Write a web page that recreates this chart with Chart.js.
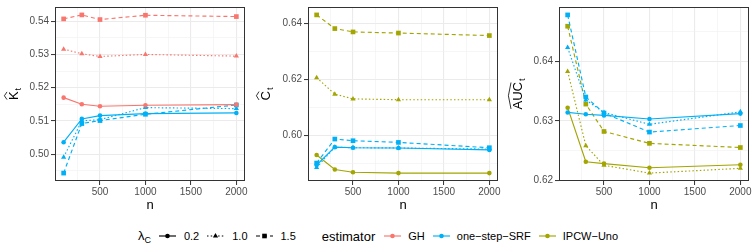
<!DOCTYPE html>
<html>
<head>
<meta charset="utf-8">
<script src="https://cdn.jsdelivr.net/npm/chart.js@4.4.0/dist/chart.umd.min.js"></script>
<style>
  body { margin: 0; background: #fff; width: 756px; height: 252px; overflow: hidden; position: relative;
         font-family: "Liberation Sans", Arial, sans-serif; }
  #panels { display: flex; position: absolute; left: 0; top: 0; }
  #panels canvas { display: block; }
  #legend { position: absolute; left: 0; top: 226px; width: 756px; height: 20px;
            display: flex; align-items: center; justify-content: center; color: #000; }
  #legend .lab { font-size: 11px; white-space: nowrap; }
  #legend .ttl { font-size: 13px; white-space: nowrap; }
  #legend sub { font-size: 9px; vertical-align: -3px; }
  #legend svg { display: block; }
</style>
</head>
<body>
<div id="panels">
  <canvas id="pK" width="252" height="214"></canvas>
  <canvas id="pC" width="252" height="214"></canvas>
  <canvas id="pA" width="252" height="214"></canvas>
</div>
<div id="legend"></div>

<script>
// ---- data -----------------------------------------------------------------
const nValues = [100, 300, 500, 1000, 2000];
const xTicks = [500, 1000, 1500, 2000];
const xMinor = [250, 750, 1250, 1750];

const lambdaLabels = ['0.2', '1.0', '1.5'];
const estimators = ['GH', 'one\u2212step\u2212SRF', 'IPCW\u2212Uno'];

// K-hat panel
const kTicks = [0.50, 0.51, 0.52, 0.53, 0.54];
const kMinor = [0.495, 0.505, 0.515, 0.525, 0.535];
const kGH02  = [0.5170, 0.5150, 0.5144, 0.5147, 0.5149];
const kGH10  = [0.5316, 0.5302, 0.5294, 0.5300, 0.5295];
const kGH15  = [0.5407, 0.5419, 0.5405, 0.5418, 0.5414];
const kSRF02 = [0.5036, 0.5106, 0.5116, 0.5122, 0.5124];
const kSRF10 = [0.4991, 0.5100, 0.5104, 0.5140, 0.5137];
const kSRF15 = [0.4943, 0.5092, 0.5101, 0.5120, 0.5148];

// C-hat panel
const cTicks = [0.60, 0.62, 0.64];
const cMinor = [0.59, 0.61, 0.63];
const cUno02 = [0.5929, 0.5877, 0.5867, 0.5864, 0.5864];
const cUno10 = [0.6206, 0.6147, 0.6130, 0.6127, 0.6127];
const cUno15 = [0.6431, 0.6382, 0.6370, 0.6366, 0.6357];
const cSRF02 = [0.5893, 0.5957, 0.5955, 0.5954, 0.5947];
const cSRF10 = [0.5884, 0.5957, 0.5955, 0.5954, 0.5950];
const cSRF15 = [0.5900, 0.5986, 0.5980, 0.5974, 0.5955];

// AUC-hat panel
const aTicks = [0.62, 0.63, 0.64];
const aMinor = [0.625, 0.635, 0.645];
const aSRF02 = [0.6314, 0.6311, 0.6309, 0.6303, 0.6312];
const aSRF10 = [0.6423, 0.6335, 0.6314, 0.6294, 0.6315];
const aSRF15 = [0.6478, 0.6340, 0.6313, 0.6281, 0.6292];
const aUno02 = [0.6322, 0.6231, 0.6228, 0.6221, 0.6226];
const aUno10 = [0.6383, 0.6258, 0.6225, 0.6212, 0.6220];
const aUno15 = [0.6459, 0.6328, 0.6282, 0.6262, 0.6255];

// ---- styles ---------------------------------------------------------------
const FONT = '"Liberation Sans", Arial, sans-serif';
const estColors = { 'GH': '#F8766D', 'SRF': '#00B0F6', 'Uno': '#A3A500' };
const lambdaStyles = [
  { dash: [],         shape: 'circle',   r: 2.3 },
  { dash: [1.5, 2.2], shape: 'triangle', r: 3.0 },
  { dash: [4, 3],     shape: 'rect',     r: 3.3 }
];

function series(values, est, li) {
  const st = lambdaStyles[li];
  const col = estColors[est];
  return {
    data: nValues.map((n, i) => ({ x: n, y: values[i] })),
    borderColor: col,
    backgroundColor: col,
    borderWidth: 1.15,
    borderDash: st.dash,
    pointStyle: st.shape,
    pointRadius: st.r,
    pointBorderWidth: 0,
    pointBackgroundColor: col,
    tension: 0,
    fill: false
  };
}

// rotated y title with a hat over the main text and a subscript
const yTitlePlugin = {
  id: 'yTitle',
  afterDraw(chart, args, opts) {
    const { ctx, chartArea: a } = chart;
    const cy = (a.top + a.bottom) / 2;
    ctx.save();
    ctx.translate(opts.x, cy);
    ctx.rotate(-Math.PI / 2);
    ctx.fillStyle = '#000';
    ctx.font = '13px ' + FONT;
    const wMain = ctx.measureText(opts.main).width;
    ctx.font = '9px ' + FONT;
    const wSub = ctx.measureText(opts.sub).width;
    const x0 = -(wMain + wSub + 1) / 2;
    ctx.textBaseline = 'alphabetic';
    ctx.font = '13px ' + FONT;
    ctx.fillText(opts.main, x0, 5);
    ctx.font = '9px ' + FONT;
    ctx.fillText(opts.sub, x0 + wMain + 1, 8);
    const hy = 5 - 9.4 - 1.6;
    ctx.beginPath();
    ctx.moveTo(x0 + 0.5, hy);
    ctx.lineTo(x0 + wMain / 2, hy - 2.6);
    ctx.lineTo(x0 + wMain - 0.5, hy);
    ctx.lineWidth = 0.8;
    ctx.strokeStyle = '#000';
    ctx.stroke();
    ctx.restore();
  }
};

const framePlugin = {
  id: 'frame',
  afterDraw(chart) {
    const { ctx, chartArea: a } = chart;
    const l = Math.round(a.left) + 0.5, r = Math.round(a.right) - 0.5;
    const t = Math.round(a.top) + 0.5, b = Math.round(a.bottom) - 0.5;
    ctx.save();
    ctx.strokeStyle = '#333333';
    ctx.lineWidth = 1;
    ctx.strokeRect(l, t, r - l, b - t);
    ctx.restore();
  }
};

function tickSet(major, minor) {
  return [...major.map(v => ({ value: v, minor: false })),
          ...minor.map(v => ({ value: v, minor: true }))].sort((p, q) => p.value - q.value);
}

const gridOpts = {
  color: c => (c.tick && c.tick.minor) ? '#F0F0F0' : '#EBEBEB',
  lineWidth: c => (c.tick && c.tick.minor) ? 0.6 : 1.1,
  tickColor: c => (c.tick && c.tick.minor) ? 'rgba(0,0,0,0)' : '#333333',
  tickLength: 4,
  tickWidth: 1,
  drawTicks: true
};

function makePanel(id, list, yMajor, yMinor, main, sub, titleX, yAxisW, padRight) {
  const allY = list.flatMap(d => d.data.map(p => p.y));
  const lo = Math.min(...allY), hi = Math.max(...allY), ex = (hi - lo) * 0.05;
  const xlo = Math.min(...nValues), xhi = Math.max(...nValues), xex = (xhi - xlo) * 0.05;
  return new Chart(document.getElementById(id), {
    type: 'line',
    data: { datasets: list },
    options: {
      responsive: false,
      animation: false,
      layout: { padding: { top: 7, right: padRight, bottom: 0, left: 0 } },
      plugins: {
        legend: { display: false },
        tooltip: { enabled: false },
        yTitle: { main: main, sub: sub, x: titleX }
      },
      scales: {
        x: {
          type: 'linear',
          min: xlo - xex, max: xhi + xex,
          afterBuildTicks: s => { s.ticks = tickSet(xTicks, xMinor); },
          afterFit: s => { s.height = 33; s.paddingLeft = 0; s.paddingRight = 0; },
          ticks: {
            autoSkip: false, maxRotation: 0, minRotation: 0, padding: 1,
            color: '#4D4D4D', font: { size: 10, family: FONT },
            callback: (v, i, t) => t[i].minor ? '' : String(v)
          },
          grid: gridOpts,
          border: { display: false },
          title: { display: true, text: 'n', color: '#000',
                   font: { size: 13, family: FONT, lineHeight: 1 },
                   padding: { top: 0, bottom: 2.5 } }
        },
        y: {
          type: 'linear',
          min: lo - ex, max: hi + ex,
          afterBuildTicks: s => { s.ticks = tickSet(yMajor, yMinor); },
          afterFit: s => { s.width = yAxisW; s.paddingTop = 0; s.paddingBottom = 0; },
          ticks: {
            autoSkip: false, padding: 2,
            color: '#4D4D4D', font: { size: 10, family: FONT },
            callback: (v, i, t) => t[i].minor ? '' : v.toFixed(2)
          },
          grid: gridOpts,
          border: { display: false },
          title: { display: false }
        }
      }
    },
    plugins: [yTitlePlugin, framePlugin]
  });
}

makePanel('pK', [
  series(kGH02, 'GH', 0), series(kGH10, 'GH', 1), series(kGH15, 'GH', 2),
  series(kSRF02, 'SRF', 0), series(kSRF10, 'SRF', 1), series(kSRF15, 'SRF', 2)
], kTicks, kMinor, 'K', 't', 13, 55, 7);

makePanel('pC', [
  series(cSRF02, 'SRF', 0), series(cSRF10, 'SRF', 1), series(cSRF15, 'SRF', 2),
  series(cUno02, 'Uno', 0), series(cUno10, 'Uno', 1), series(cUno15, 'Uno', 2)
], cTicks, cMinor, 'C', 't', 13, 56, 6);

makePanel('pA', [
  series(aSRF02, 'SRF', 0), series(aSRF10, 'SRF', 1), series(aSRF15, 'SRF', 2),
  series(aUno02, 'Uno', 0), series(aUno10, 'Uno', 1), series(aUno15, 'Uno', 2)
], aTicks, aMinor, 'AUC', 't', 13, 55, 7);

// ---- legend ---------------------------------------------------------------
function keySvg(color, st) {
  const w = 17, h = 10, cx = 8.5, cy = 5;
  let mark;
  if (st.shape === 'circle') mark = `<circle cx="${cx}" cy="${cy}" r="2.3" fill="${color}"/>`;
  else if (st.shape === 'triangle') mark = `<polygon points="${cx},${cy - 3} ${cx - 2.6},${cy + 1.5} ${cx + 2.6},${cy + 1.5}" fill="${color}"/>`;
  else mark = `<rect x="${cx - 2.3}" y="${cy - 2.3}" width="4.6" height="4.6" fill="${color}"/>`;
  return `<svg width="${w}" height="${h}"><line x1="0" y1="${cy}" x2="${w}" y2="${cy}" stroke="${color}" stroke-width="1.15" stroke-dasharray="${st.dash.join(' ') || 'none'}"/>${mark}</svg>`;
}

const leg = document.getElementById('legend');
let html = '<span class="ttl" style="margin-right:8px">\u03bb<sub>C</sub></span>';
lambdaLabels.forEach((lab, i) => {
  html += keySvg('#000', lambdaStyles[i]);
  html += `<span class="lab" style="margin:0 ${i < 2 ? 8 : 0}px 0 8px">${lab}</span>`;
});
html += '<span class="ttl" style="margin:0 9px 0 26px">estimator</span>';
const estKeys = ['GH', 'SRF', 'Uno'];
estimators.forEach((lab, i) => {
  html += keySvg(estColors[estKeys[i]], lambdaStyles[0]);
  html += `<span class="lab" style="margin:0 ${i < 2 ? 8 : 0}px 0 7px">${lab}</span>`;
});
leg.innerHTML = html;
</script>
</body>
</html>
